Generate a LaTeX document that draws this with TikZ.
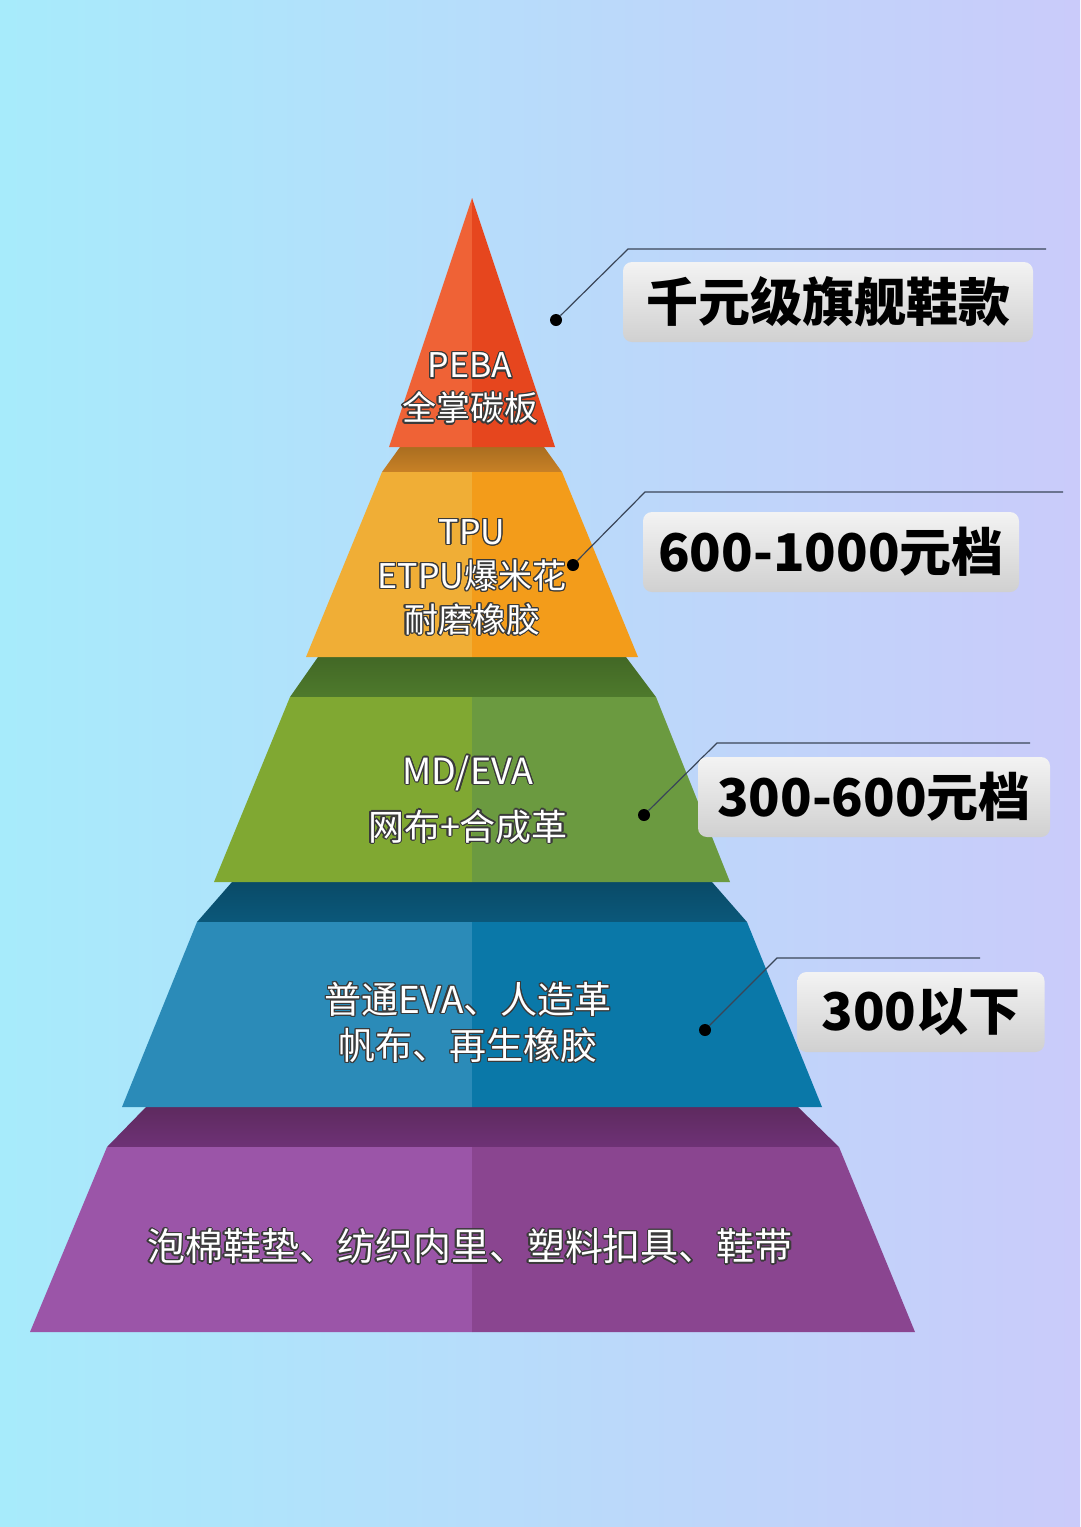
\documentclass[tikz,border=0pt]{standalone}
\usepackage{fontspec}
\usepackage{contour}
\setmainfont{Noto Sans CJK SC}
\contourlength{1.2pt}
\contournumber{16}
\definecolor{bgleft}{HTML}{A7EBFB}
\definecolor{bgright}{HTML}{CACBFA}
\definecolor{redL}{HTML}{EF6236}
\definecolor{redR}{HTML}{E6461E}
\definecolor{orgband}{HTML}{C88126}
\definecolor{orgL}{HTML}{F0AE36}
\definecolor{orgR}{HTML}{F39C1A}
\definecolor{grnband}{HTML}{4E7A2C}
\definecolor{grnL}{HTML}{80A832}
\definecolor{grnR}{HTML}{6B9A40}
\definecolor{bluband}{HTML}{0B587A}
\definecolor{bluL}{HTML}{2B8BB8}
\definecolor{bluR}{HTML}{0A78A8}
\definecolor{purband}{HTML}{5E2A5F}
\definecolor{purbandlow}{HTML}{6E3276}
\definecolor{purL}{HTML}{9B55A8}
\definecolor{purR}{HTML}{8A4590}
\definecolor{pinline}{HTML}{3A4658}
\definecolor{tagtop}{HTML}{F3F3F3}
\definecolor{tagbot}{HTML}{D0D0D0}
\definecolor{rimgray}{HTML}{3A3A3A}
\tikzstyle{tiertext} = [text=white, align=center, inner sep=0pt]
\tikzstyle{pricetag} = [rectangle, rounded corners=9pt, minimum height=80pt, text centered, top color=tagtop, bottom color=tagbot, text=black, font=\fontsize{52}{60}\selectfont\bfseries]
\tikzstyle{pin} = [line width=1.2pt, draw=pinline]
\tikzstyle{pindot} = [circle, fill=black, inner sep=0pt, minimum size=12pt]

\begin{document}
\begin{tikzpicture}[x=1pt, y=-1pt]
    \useasboundingbox (0,0) rectangle (1080,1527);
    \shade [left color=bgleft, right color=bgright] (0,0) rectangle (1080,1527);
    % bands between the tiers
    \shade [top color=orgband!85!black, bottom color=orgband] (400,447) -- (544,447) -- (562,472) -- (382,472) -- cycle;
    \shade [top color=grnband!85!black, bottom color=grnband] (318,657) -- (626,657) -- (656,697) -- (290,697) -- cycle;
    \shade [top color=bluband!85!black, bottom color=bluband] (232,882) -- (712,882) -- (747,922) -- (197,922) -- cycle;
    \shade [top color=purband, bottom color=purbandlow] (146,1107) -- (798,1107) -- (839,1147) -- (107,1147) -- cycle;
    % faces
    \fill [redL] (472,198) -- (389,447) -- (472,447) -- cycle;
    \fill [redR] (472,198) -- (472,447) -- (555,447) -- cycle;
    \fill [orgL] (382,472) -- (472,472) -- (472,657) -- (306,657) -- cycle;
    \fill [orgR] (472,472) -- (562,472) -- (638,657) -- (472,657) -- cycle;
    \fill [grnL] (290,697) -- (472,697) -- (472,882) -- (214,882) -- cycle;
    \fill [grnR] (472,697) -- (656,697) -- (730,882) -- (472,882) -- cycle;
    \fill [bluL] (197,922) -- (472,922) -- (472,1107) -- (122,1107) -- cycle;
    \fill [bluR] (472,922) -- (747,922) -- (822,1107) -- (472,1107) -- cycle;
    \fill [purL] (107,1147) -- (472,1147) -- (472,1332) -- (30,1332) -- cycle;
    \fill [purR] (472,1147) -- (839,1147) -- (915,1332) -- (472,1332) -- cycle;
    % texts on the tiers
    \node (peba) [tiertext, font=\fontsize{34}{43}\selectfont] at (470,389) {\contour{rimgray}{PEBA}\\\contour{rimgray}{全掌碳板}};
    \node (tpu) [tiertext, font=\fontsize{34}{44}\selectfont] at (472,578) {\contour{rimgray}{TPU}\\\contour{rimgray}{ETPU爆米花}\\\contour{rimgray}{耐磨橡胶}};
    \node (mdeva) [tiertext, font=\fontsize{36}{56}\selectfont] at (468,800) {\contour{rimgray}{MD/EVA}\\\contour{rimgray}{网布+合成革}};
    \node (eva) [tiertext, font=\fontsize{37}{46}\selectfont] at (468,1023) {\contour{rimgray}{普通EVA、人造革}\\\contour{rimgray}{帆布、再生橡胶}};
    \node (foam) [tiertext, font=\fontsize{38}{46}\selectfont] at (470,1247) {\contour{rimgray}{泡棉鞋垫、纺织内里、塑料扣具、鞋带}};
    % callouts
    \node (dotpeba) [pindot] at (556,320) {};
    \coordinate (kneepeba) at (628,249);
    \coordinate (endpeba) at (1046,249);
    \draw [pin] (dotpeba) -- (kneepeba) -- (endpeba);
    \node (dottpu) [pindot] at (573,565) {};
    \coordinate (kneetpu) at (645,492);
    \coordinate (endtpu) at (1063,492);
    \draw [pin] (dottpu) -- (kneetpu) -- (endtpu);
    \node (dotmdeva) [pindot] at (644,815) {};
    \coordinate (kneemdeva) at (717,743);
    \coordinate (endmdeva) at (1030,743);
    \draw [pin] (dotmdeva) -- (kneemdeva) -- (endmdeva);
    \node (doteva) [pindot] at (705,1030) {};
    \coordinate (kneeeva) at (777,958);
    \coordinate (endeva) at (980,958);
    \draw [pin] (doteva) -- (kneeeva) -- (endeva);
    % price tags
    \node (flagship) [pricetag, minimum width=410pt] at (828,302) {千元级旗舰鞋款};
    \node (upper) [pricetag, minimum width=376pt] at (831,552) {600-1000元档};
    \node (middle) [pricetag, minimum width=352pt] at (874,797) {300-600元档};
    \node (entry) [pricetag, minimum width=247pt] at (921,1012) {300以下};
\end{tikzpicture}
\end{document}
